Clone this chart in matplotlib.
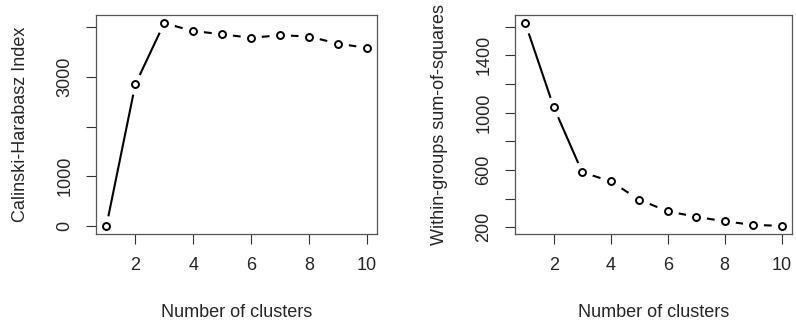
import matplotlib
matplotlib.use('Agg')

import numpy as np
import matplotlib.pyplot as plt

plt.rcParams['font.family'] = ['Liberation Sans', 'DejaVu Sans']

# number of clusters tried
clusters = [1, 2, 3, 4, 5, 6, 7, 8, 9, 10]

# Calinski-Harabasz index per k
ch_index = [0, 2848, 4083, 3923, 3860, 3786, 3840, 3813, 3672, 3583]

# within-groups sum of squares per k
wss = [1625, 1038, 584, 521, 392, 312, 273, 242, 217, 210]

xticks = [2, 4, 6, 8, 10]
ch_ticks = [0, 1000, 2000, 3000, 4000]
ch_labels = ['0', '1000', '', '3000', '']
wss_ticks = [200, 400, 600, 800, 1000, 1200, 1400, 1600]
wss_labels = ['200', '', '600', '', '1000', '', '1400', '']

TXT = '#262626'
FS = 13
LW = 1.5
DPI = 100

fig = plt.figure(figsize=(7.96, 3.25), dpi=DPI)
ax1 = fig.add_axes([96/796, 1 - 234/325, 281/796, 219/325])
ax2 = fig.add_axes([515/796, 1 - 234/325, 277/796, 219/325])


def rplot(ax, x, y, ticks, labels, ylabel):
    rng = max(y) - min(y)
    ax.set_ylim(min(y) - 0.04 * rng, max(y) + 0.04 * rng)
    ax.set_xlim(1 - 0.36, 10 + 0.36)

    # solid for first segments (k = 1..3), dashed afterwards
    ax.plot(x[:3], y[:3], color='black', lw=LW, zorder=1)
    pts = ax.transData.transform(np.column_stack([x, y]))
    for i in range(2, len(x) - 1):
        # centre one dash in the middle of each segment
        seg = np.hypot(*(pts[i + 1] - pts[i])) * 72 / DPI / LW
        off = (2 - seg / 2) % 8
        ax.plot(x[i:i + 2], y[i:i + 2], color='black', lw=LW,
                ls=(off, (4, 4)), zorder=1)

    # white disks give the gaps of R's type="b"
    ax.plot(x, y, 'o', ms=15, mfc='white', mec='none', zorder=2)
    ax.plot(x, y, 'o', ms=5, mfc='white', mec='black', mew=1.4, zorder=3)

    ax.set_xticks(xticks)
    ax.set_yticks(ticks)
    ax.set_yticklabels(labels)
    ax.tick_params(direction='out', length=7.2, width=0.8, color='#333333',
                   labelsize=FS, labelcolor=TXT, pad=9)
    for lab in ax.get_yticklabels():
        lab.set_rotation(90)
        lab.set_va('center')
    for s in ax.spines.values():
        s.set_color('#555555')
        s.set_linewidth(0.9)
    ax.set_xlabel('Number of clusters', fontsize=FS, color=TXT, labelpad=22)
    ax.set_ylabel(ylabel, fontsize=FS, color=TXT, labelpad=20)


rplot(ax1, clusters, ch_index, ch_ticks, ch_labels, 'Calinski-Harabasz Index')
rplot(ax2, clusters, wss, wss_ticks, wss_labels, 'Within-groups sum-of-squares')

plt.savefig('out.png', dpi=DPI)
